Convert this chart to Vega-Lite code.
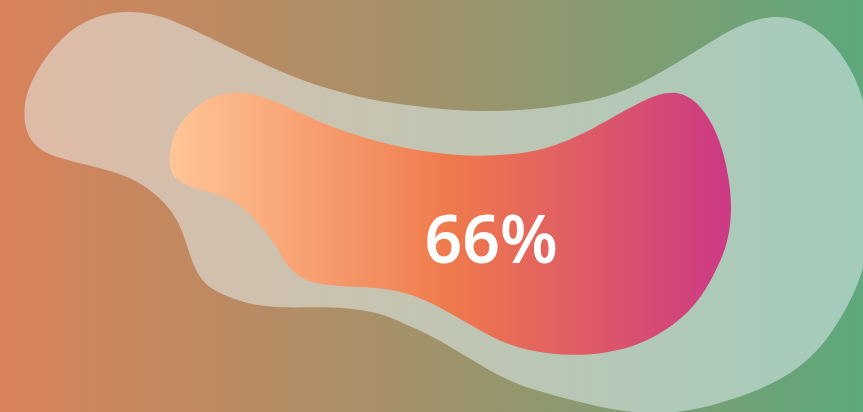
{
  "$schema": "https://vega.github.io/schema/vega-lite/v6.json",
  "width": 863,
  "height": 412,
  "autosize": {"type": "none"},
  "padding": 0,
  "background": "#a0936a",
  "config": {"view": {"stroke": null}},
  "datasets": {
    "bg": [{"x": 0, "x2": 863, "y": 0, "y2": 412}],
    "outer": [
      {"o": 1, "x": 24, "y": 112}, {"o": 2, "x": 26, "y": 95}, {"o": 3, "x": 33, "y": 78}, {"o": 4, "x": 45, "y": 58},
      {"o": 5, "x": 60, "y": 40}, {"o": 6, "x": 78, "y": 25}, {"o": 7, "x": 100, "y": 15}, {"o": 8, "x": 125, "y": 11},
      {"o": 9, "x": 150, "y": 13}, {"o": 10, "x": 175, "y": 21}, {"o": 11, "x": 200, "y": 33}, {"o": 12, "x": 240, "y": 52},
      {"o": 13, "x": 280, "y": 72}, {"o": 14, "x": 330, "y": 90}, {"o": 15, "x": 380, "y": 102}, {"o": 16, "x": 430, "y": 108},
      {"o": 17, "x": 480, "y": 112}, {"o": 18, "x": 530, "y": 110}, {"o": 19, "x": 580, "y": 103}, {"o": 20, "x": 610, "y": 96},
      {"o": 21, "x": 640, "y": 84}, {"o": 22, "x": 665, "y": 70}, {"o": 23, "x": 690, "y": 55}, {"o": 24, "x": 715, "y": 39},
      {"o": 25, "x": 743, "y": 23}, {"o": 26, "x": 777, "y": 14}, {"o": 27, "x": 810, "y": 23}, {"o": 28, "x": 837, "y": 47},
      {"o": 29, "x": 853, "y": 73}, {"o": 30, "x": 863, "y": 97}, {"o": 31, "x": 872, "y": 140}, {"o": 32, "x": 875, "y": 190},
      {"o": 33, "x": 870, "y": 240}, {"o": 34, "x": 862, "y": 274}, {"o": 35, "x": 851, "y": 300}, {"o": 36, "x": 838, "y": 323},
      {"o": 37, "x": 817, "y": 353}, {"o": 38, "x": 783, "y": 380}, {"o": 39, "x": 733, "y": 400}, {"o": 40, "x": 690, "y": 411},
      {"o": 41, "x": 655, "y": 414}, {"o": 42, "x": 620, "y": 411}, {"o": 43, "x": 583, "y": 403}, {"o": 44, "x": 533, "y": 390},
      {"o": 45, "x": 500, "y": 377}, {"o": 46, "x": 467, "y": 357}, {"o": 47, "x": 433, "y": 336}, {"o": 48, "x": 400, "y": 322},
      {"o": 49, "x": 383, "y": 314}, {"o": 50, "x": 350, "y": 308}, {"o": 51, "x": 317, "y": 307}, {"o": 52, "x": 283, "y": 308},
      {"o": 53, "x": 250, "y": 305}, {"o": 54, "x": 217, "y": 293}, {"o": 55, "x": 200, "y": 280}, {"o": 56, "x": 190, "y": 257},
      {"o": 57, "x": 183, "y": 231}, {"o": 58, "x": 170, "y": 207}, {"o": 59, "x": 147, "y": 187}, {"o": 60, "x": 127, "y": 176},
      {"o": 61, "x": 100, "y": 168}, {"o": 62, "x": 67, "y": 160}, {"o": 63, "x": 43, "y": 153}, {"o": 64, "x": 30, "y": 140},
      {"o": 65, "x": 25, "y": 126}
    ],
    "inner": [
      {"o": 1, "x": 169, "y": 162}, {"o": 2, "x": 171, "y": 145}, {"o": 3, "x": 176, "y": 130}, {"o": 4, "x": 185, "y": 117},
      {"o": 5, "x": 200, "y": 103}, {"o": 6, "x": 217, "y": 95}, {"o": 7, "x": 233, "y": 92}, {"o": 8, "x": 250, "y": 93},
      {"o": 9, "x": 267, "y": 98}, {"o": 10, "x": 290, "y": 108}, {"o": 11, "x": 330, "y": 127}, {"o": 12, "x": 380, "y": 143},
      {"o": 13, "x": 430, "y": 153}, {"o": 14, "x": 480, "y": 157}, {"o": 15, "x": 530, "y": 153}, {"o": 16, "x": 560, "y": 144},
      {"o": 17, "x": 593, "y": 129}, {"o": 18, "x": 627, "y": 109}, {"o": 19, "x": 657, "y": 94}, {"o": 20, "x": 678, "y": 91},
      {"o": 21, "x": 697, "y": 101}, {"o": 22, "x": 713, "y": 124}, {"o": 23, "x": 723, "y": 150}, {"o": 24, "x": 730, "y": 183},
      {"o": 25, "x": 732, "y": 215}, {"o": 26, "x": 727, "y": 247}, {"o": 27, "x": 713, "y": 277}, {"o": 28, "x": 698, "y": 302},
      {"o": 29, "x": 675, "y": 325}, {"o": 30, "x": 640, "y": 345}, {"o": 31, "x": 607, "y": 353}, {"o": 32, "x": 573, "y": 356},
      {"o": 33, "x": 533, "y": 352}, {"o": 34, "x": 500, "y": 342}, {"o": 35, "x": 467, "y": 323}, {"o": 36, "x": 433, "y": 303},
      {"o": 37, "x": 405, "y": 292}, {"o": 38, "x": 380, "y": 288}, {"o": 39, "x": 357, "y": 287}, {"o": 40, "x": 323, "y": 285},
      {"o": 41, "x": 303, "y": 280}, {"o": 42, "x": 287, "y": 267}, {"o": 43, "x": 277, "y": 247}, {"o": 44, "x": 263, "y": 229},
      {"o": 45, "x": 247, "y": 210}, {"o": 46, "x": 227, "y": 197}, {"o": 47, "x": 200, "y": 190}, {"o": 48, "x": 185, "y": 185},
      {"o": 49, "x": 176, "y": 179}, {"o": 50, "x": 171, "y": 172}
    ],
    "label": [{"x": 491, "y": 263, "text": "66%"}]
  },
  "layer": [
    {
      "data": {"name": "bg"},
      "mark": {
        "type": "rect",
        "fill": {"gradient": "linear", "x1": 0, "y1": 0, "x2": 1, "y2": 0,
          "stops": [{"offset": 0, "color": "#d9825a"}, {"offset": 0.5, "color": "#a1926a"}, {"offset": 1, "color": "#5da87c"}]}
      },
      "encoding": {
        "x": {"field": "x", "type": "quantitative", "scale": {"domain": [0, 863], "nice": false, "zero": false}, "axis": null},
        "x2": {"field": "x2"},
        "y": {"field": "y", "type": "quantitative", "scale": {"domain": [0, 412], "nice": false, "zero": false, "reverse": true}, "axis": null},
        "y2": {"field": "y2"}
      }
    },
    {
      "data": {"name": "outer"},
      "mark": {
        "type": "line",
        "interpolate": "basis-closed",
        "strokeWidth": 0,
        "fill": {"gradient": "linear", "x1": 0, "y1": 0, "x2": 1, "y2": 0,
          "stops": [{"offset": 0, "color": "#dfbba7"}, {"offset": 0.5, "color": "#c1c5b3"}, {"offset": 1, "color": "#a2ccbb"}]}
      },
      "encoding": {
        "x": {"field": "x", "type": "quantitative", "scale": {"domain": [0, 863], "nice": false, "zero": false}, "axis": null},
        "y": {"field": "y", "type": "quantitative", "scale": {"domain": [0, 412], "nice": false, "zero": false, "reverse": true}, "axis": null},
        "order": {"field": "o", "type": "quantitative"}
      }
    },
    {
      "data": {"name": "inner"},
      "mark": {
        "type": "line",
        "interpolate": "basis-closed",
        "strokeWidth": 0,
        "fill": {"gradient": "linear", "x1": 0, "y1": 0, "x2": 1, "y2": 0,
          "stops": [{"offset": 0, "color": "#ffc597"}, {"offset": 0.5, "color": "#ef7a4c"}, {"offset": 1, "color": "#cb3984"}]}
      },
      "encoding": {
        "x": {"field": "x", "type": "quantitative", "scale": {"domain": [0, 863], "nice": false, "zero": false}, "axis": null},
        "y": {"field": "y", "type": "quantitative", "scale": {"domain": [0, 412], "nice": false, "zero": false, "reverse": true}, "axis": null},
        "order": {"field": "o", "type": "quantitative"}
      }
    },
    {
      "data": {"name": "label"},
      "mark": {"type": "text", "align": "center", "baseline": "alphabetic", "font": "Noto Sans", "fontWeight": 600, "fontSize": 66, "color": "#ffffff"},
      "encoding": {
        "x": {"field": "x", "type": "quantitative", "scale": {"domain": [0, 863], "nice": false, "zero": false}, "axis": null},
        "y": {"field": "y", "type": "quantitative", "scale": {"domain": [0, 412], "nice": false, "zero": false, "reverse": true}, "axis": null},
        "text": {"field": "text"}
      }
    }
  ]
}
